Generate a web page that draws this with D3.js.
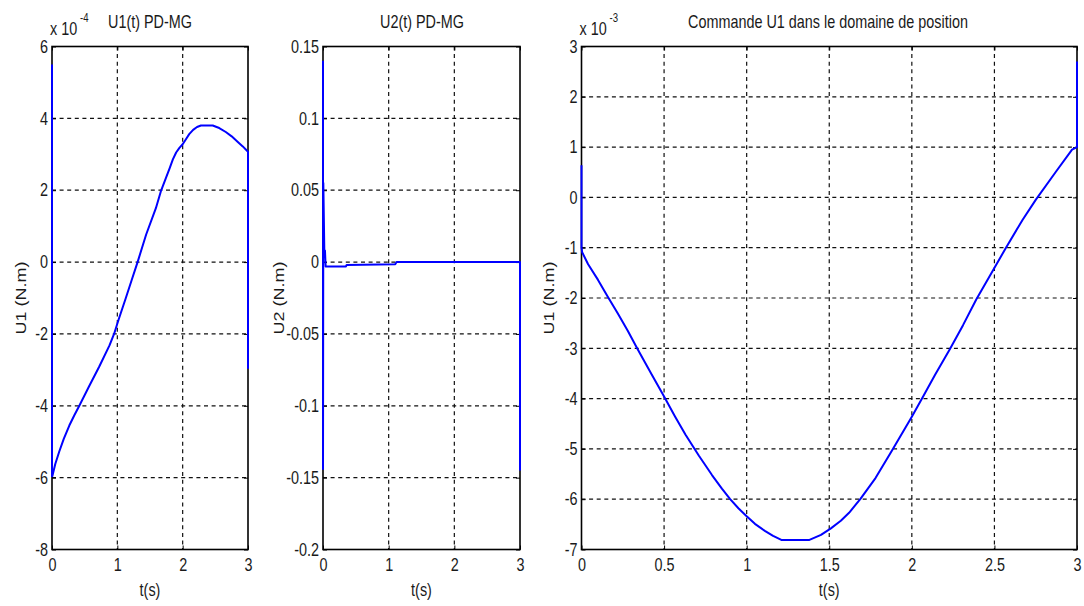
<!DOCTYPE html>
<html>
<head>
<meta charset="utf-8">
<script src="https://cdn.jsdelivr.net/npm/d3@7"></script>
<style>
  body { margin: 0; background: #fff; }
  text { font-family: "Liberation Sans", Arial, sans-serif; fill: #1a1a1a; }
</style>
</head>
<body>
<div id="container"></div>
<script>
/* DATA (in the units shown on each axis) */
// panel 1 : U1(t) PD-MG, x 10^-4
const u1Time = [0, 0, 0.005, 0.05, 0.11, 0.18, 0.265, 0.34, 0.42, 0.57, 0.72, 0.88, 0.95, 1.02, 1.13, 1.22, 1.31, 1.44, 1.59, 1.67, 1.74, 1.80, 1.85, 1.90, 1.95, 2.0, 2.05, 2.10, 2.16, 2.22, 2.28, 2.46, 2.56, 2.66, 2.75, 2.84, 2.92, 3.0, 3.0]
const u1Vals = [5.5, -5.96, -5.96, -5.62, -5.28, -4.92, -4.55, -4.27, -3.99, -3.45, -2.92, -2.32, -2.0, -1.6, -1.0, -0.5, 0, 0.76, 1.50, 1.99, 2.32, 2.61, 2.86, 3.05, 3.18, 3.28, 3.42, 3.56, 3.68, 3.76, 3.8, 3.8, 3.73, 3.62, 3.5, 3.35, 3.22, 3.07, -2.97]

// panel 2 : U2(t) PD-MG
const u2Time = [0, 0, 0.005, 0.02, 0.03, 0.04, 0.35, 0.36, 1.1, 1.12, 3.0, 3.0]
const u2Vals = [0.14, -0.144, 0.055, 0.008, 0.008, -0.003, -0.003, -0.002, -0.0015, 0, 0, -0.145]

// panel 3 : Commande U1 dans le domaine de position, x 10^-3
const posTime = [0, 0, 0.004, 0.04, 0.10, 0.16, 0.22, 0.28, 0.34, 0.425, 0.50, 0.567, 0.63, 0.71, 0.79, 0.85, 0.90, 0.95, 1.0, 1.05, 1.11, 1.16, 1.21, 1.38, 1.45, 1.51, 1.57, 1.62, 1.69, 1.78, 1.88, 2.0, 2.07, 2.14, 2.23, 2.31, 2.39, 2.49, 2.57, 2.67, 2.75, 2.87, 2.97, 3.0, 3.0, 3.0]
const posVals = [0.64, -1.0, -1.09, -1.33, -1.64, -1.98, -2.31, -2.65, -3.02, -3.52, -3.96, -4.36, -4.72, -5.13, -5.52, -5.79, -6.0, -6.18, -6.34, -6.49, -6.63, -6.73, -6.81, -6.81, -6.71, -6.58, -6.43, -6.27, -5.99, -5.58, -5.03, -4.36, -3.95, -3.53, -3.02, -2.54, -2.03, -1.46, -1.0, -0.45, -0.05, 0.5, 0.95, 1.0, 1.55, 2.7]

// tick values
const ticksX3 = [0, 1, 2, 3]
const ticksXHalf = [0, 0.5, 1, 1.5, 2, 2.5, 3]
const ticksY1 = [-8, -6, -4, -2, 0, 2, 4, 6]
const ticksY2 = [-0.2, -0.15, -0.1, -0.05, 0, 0.05, 0.1, 0.15]
const ticksY3 = [-7, -6, -5, -4, -3, -2, -1, 0, 1, 2, 3]

const width = 1084, height = 606
const squeeze = 0.8  // the original text is horizontally compressed
const fmt = d => String(d)  // plain hyphen minus, like the original

const svg = d3.select("#container")
  .append("svg")
  .attr("width", width)
  .attr("height", height)

function addText(x, y, str, size, anchor, rotate) {
  return svg.append("text")
    .attr("transform", `translate(${x},${y}) scale(${squeeze},1)` + (rotate ? " rotate(-90)" : ""))
    .attr("text-anchor", anchor || "middle")
    .attr("font-size", size + "px")
    .text(str)
}

function drawPanel(p) {
  const x = d3.scaleLinear().domain([0, 3]).range([p.left, p.right])
  const y = d3.scaleLinear().domain(p.yDomain).range([549.5, 46.5])
  const [x0, x1] = x.range()
  const [y0, y1] = y.range()

  // grid
  const g = svg.append("g")
  g.selectAll("line.gx")
    .data(p.xTicks.filter(d => d > 0 && d < 3))
    .join("line")
    .attr("x1", d => x(d)).attr("x2", d => x(d))
    .attr("y1", y1).attr("y2", y0)
    .attr("stroke", "#111").attr("stroke-width", 1.2)
    .attr("stroke-dasharray", "4,3.6")
  g.selectAll("line.gy")
    .data(p.yTicks.filter(d => d > p.yDomain[0] && d < p.yDomain[1]))
    .join("line")
    .attr("x1", x0).attr("x2", x1)
    .attr("y1", d => y(d)).attr("y2", d => y(d))
    .attr("stroke", "#111").attr("stroke-width", 1.2)
    .attr("stroke-dasharray", "4,3.6")

  // box
  svg.append("rect")
    .attr("x", x0).attr("y", y1)
    .attr("width", x1 - x0).attr("height", y0 - y1)
    .attr("fill", "none").attr("stroke", "#000").attr("stroke-width", 1.6)

  // axes (inner ticks, MATLAB style)
  const xAxis = d3.axisBottom(x).tickValues(p.xTicks).tickSize(-4).tickPadding(9).tickFormat(fmt)
  const yAxis = d3.axisLeft(y).tickValues(p.yTicks).tickSize(-4).tickPadding(5).tickFormat(fmt)
  const bottom = svg.append("g").attr("transform", `translate(0,${y0})`).call(xAxis)
  const left = svg.append("g").attr("transform", `translate(${x0},0)`).call(yAxis)
  svg.append("g").attr("transform", `translate(0,${y1})`)
    .call(d3.axisTop(x).tickValues(p.xTicks).tickSize(-4).tickFormat(""))
  svg.append("g").attr("transform", `translate(${x1},0)`)
    .call(d3.axisRight(y).tickValues(p.yTicks).tickSize(-4).tickFormat(""))

  svg.selectAll(".domain").remove()
  svg.selectAll(".tick line").attr("stroke", "#000").attr("stroke-width", 1)
  bottom.selectAll("text").attr("font-size", "18px").attr("dy", "0.71em")
    .attr("transform", `scale(${squeeze},1)`)
  left.selectAll("text").attr("font-size", "18px")
    .attr("transform", `scale(${squeeze},1)`)
  svg.selectAll(".tick text").attr("fill", "#1a1a1a").attr("font-family", "Liberation Sans, Arial, sans-serif")

  // curve, drawn over the box like MATLAB does
  const pts = p.time.map((t, i) => [t, p.vals[i]])
  svg.append("path")
    .datum(pts)
    .attr("fill", "none")
    .attr("stroke", "#0000ff")
    .attr("stroke-width", 2)
    .attr("stroke-linejoin", "round")
    .attr("d", d3.line().x(d => x(d[0])).y(d => y(d[1])))

  // labels
  addText((x0 + x1) / 2, 596, "t(s)", 18)
  addText(p.yLabelX, (y0 + y1) / 2, p.yLabel, 18, "middle", true)
  addText(p.titleX, 28, p.title, 18)
  if (p.exp) {
    addText(x0 - 2, 35, "x 10", 18, "start")
    addText(x0 + 28, 22, p.exp, 12, "start")
  }
}

drawPanel({
  left: 52, right: 248, yDomain: [-8, 6],
  xTicks: ticksX3, yTicks: ticksY1,
  time: u1Time, vals: u1Vals,
  title: "U1(t) PD-MG", titleX: 150, exp: "-4",
  yLabel: "U1 (N.m)", yLabelX: 26
})

drawPanel({
  left: 323, right: 520, yDomain: [-0.2, 0.15],
  xTicks: ticksX3, yTicks: ticksY2,
  time: u2Time, vals: u2Vals,
  title: "U2(t) PD-MG", titleX: 422,
  yLabel: "U2 (N.m)", yLabelX: 284
})

drawPanel({
  left: 581.5, right: 1077, yDomain: [-7, 3],
  xTicks: ticksXHalf, yTicks: ticksY3,
  time: posTime, vals: posVals,
  title: "Commande U1 dans le domaine de position", titleX: 828, exp: "-3",
  yLabel: "U1 (N.m)", yLabelX: 554
})
</script>
</body>
</html>
